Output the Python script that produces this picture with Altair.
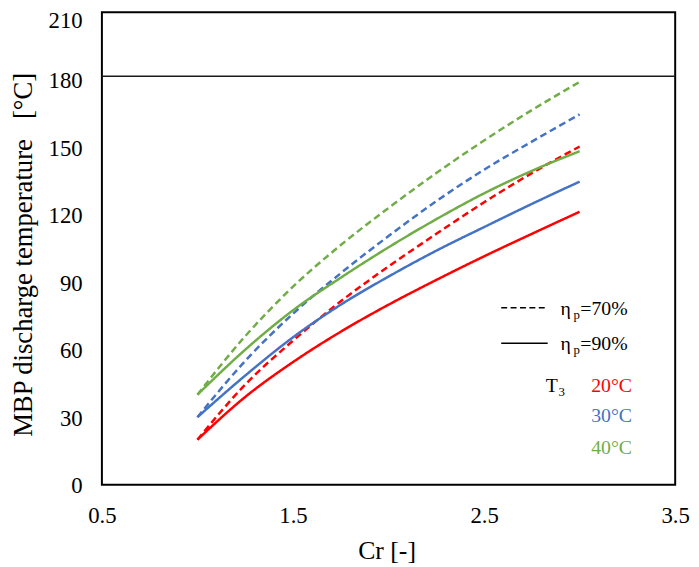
import altair as alt
import pandas as pd

FONT = "Liberation Serif"

# Data
cr = [1.0, 1.25, 1.5, 1.75, 2.0, 2.25, 2.5, 2.75, 3.0]
red_70 = [20, 44.5, 64, 81.5, 97, 111.5, 125.5, 138.5, 150.3]
red_90 = [20, 39, 54.5, 68, 80, 91, 101.5, 111.5, 121.3]
blue_70 = [30, 55, 76, 94, 110.5, 126, 140, 152.5, 164.6]
blue_90 = [30, 48.5, 65.5, 80, 92.5, 104, 114.5, 124.8, 134.7]
green_70 = [40, 66, 88, 106.5, 123, 138.5, 153, 166.5, 179]
green_90 = [40, 60, 77.5, 92, 105.5, 118, 129.5, 139.5, 148.2]
limit_line = 181.5

x_ticks = [0.5, 1.5, 2.5, 3.5]
y_ticks = [0, 30, 60, 90, 120, 150, 180, 210]

series = [
    ("20°C", "70%", red_70),
    ("20°C", "90%", red_90),
    ("30°C", "70%", blue_70),
    ("30°C", "90%", blue_90),
    ("40°C", "70%", green_70),
    ("40°C", "90%", green_90),
]
rows = []
for t3, eta, vals in series:
    for c, v in zip(cr, vals):
        rows.append({"Cr": c, "T": v, "T3": t3, "eta": eta, "series": t3 + eta})
df = pd.DataFrame(rows)

colors = ["#FF0000", "#4472C4", "#70AD47"]

xscale = alt.Scale(domain=[0.5, 3.5], nice=False, zero=False)
yscale = alt.Scale(domain=[0, 210], nice=False)

lines = alt.Chart(df).mark_line(interpolate="monotone", strokeWidth=2.5).encode(
    x=alt.X("Cr:Q", scale=xscale,
            axis=alt.Axis(values=x_ticks, format=".1f", title="Cr [-]",
                          labelFont=FONT, labelFontSize=23, labelColor="black",
                          titleFont=FONT, titleFontSize=26, titleColor="black",
                          titleFontWeight="normal",
                          labelFlush=False, labelOverlap=False,
                          labelBaseline="alphabetic", labelPadding=38,
                          titleX=288, titleY=75, titleBaseline="alphabetic",
                          titleAnchor="start", titleAlign="center",
                          domain=False, ticks=False, grid=False)),
    y=alt.Y("T:Q", scale=yscale,
            axis=alt.Axis(values=y_ticks, title="MBP discharge temperature\u00a0\u00a0\u00a0[°C]",
                          labelFont=FONT, labelFontSize=23, labelColor="black",
                          titleFont=FONT, titleFontSize=27, titleColor="black",
                          titleFontWeight="normal",
                          labelPadding=20, labelOverlap=False, labelFlush=False,
                          labelBaseline={"expr": "datum.value == 210 ? 'top' : 'middle'"},
                          labelOffset={"expr": "datum.value == 210 ? -3 : 1"},
                          titleX=-71, titleY=245, titleAngle=270,
                          titleAlign="center", titleBaseline="alphabetic",
                          titleAnchor="start",
                          domain=False, ticks=False, grid=False)),
    color=alt.Color("T3:N", scale=alt.Scale(domain=["20°C", "30°C", "40°C"], range=colors), legend=None),
    strokeDash=alt.StrokeDash("eta:N", scale=alt.Scale(domain=["70%", "90%"], range=[[7, 4], [1, 0]]), legend=None),
    detail="series:N",
)

hline = alt.Chart(alt.Data(values=[{}])).mark_rule(color="#1a1a1a", strokeWidth=1.5).encode(
    y=alt.datum(limit_line, scale=yscale)
)

one = alt.Data(values=[{}])

def txt(s, x, y, size=20, color="black", baseline="alphabetic"):
    return alt.Chart(one).mark_text(text=s, align="left", baseline=baseline,
                                    font=FONT, fontSize=size, color=color).encode(
        x=alt.value(x), y=alt.value(y))

leg_dash = alt.Chart(one).mark_rule(color="black", strokeWidth=1.5, strokeDash=[6, 3.5]).encode(
    x=alt.value(404), x2=alt.value(451), y=alt.value(299))
leg_solid = alt.Chart(one).mark_rule(color="black", strokeWidth=1.5).encode(
    x=alt.value(404), x2=alt.value(451), y=alt.value(335))

texts = [
    txt("η", 464, 306), txt("p", 477, 310, size=13), txt("=70%", 484, 306),
    txt("η", 464, 342), txt("p", 477, 346, size=13), txt("=90%", 484, 342),
    txt("T", 449, 384), txt("3", 462, 388, size=13),
    txt("20°C", 495, 384, color=colors[0]),
    txt("30°C", 495, 415, color=colors[1]),
    txt("40°C", 495, 447, color=colors[2]),
]

chart = alt.layer(hline, lines, leg_dash, leg_solid, *texts).properties(
    width=580, height=478,
    autosize=alt.AutoSizeParams(type="none"),
    padding={"left": 95, "top": 1, "right": 16, "bottom": 78},
).configure(
    font=FONT
).configure_view(
    stroke="black", strokeWidth=2
).configure_axis(
    domain=False, ticks=False, grid=False,
    labelFont=FONT, labelFontSize=23, labelColor="black",
    titleFont=FONT, titleFontSize=26, titleColor="black", titleFontWeight="normal",
)

chart.save("out.html", embed_options={"renderer": "svg", "actions": False})
